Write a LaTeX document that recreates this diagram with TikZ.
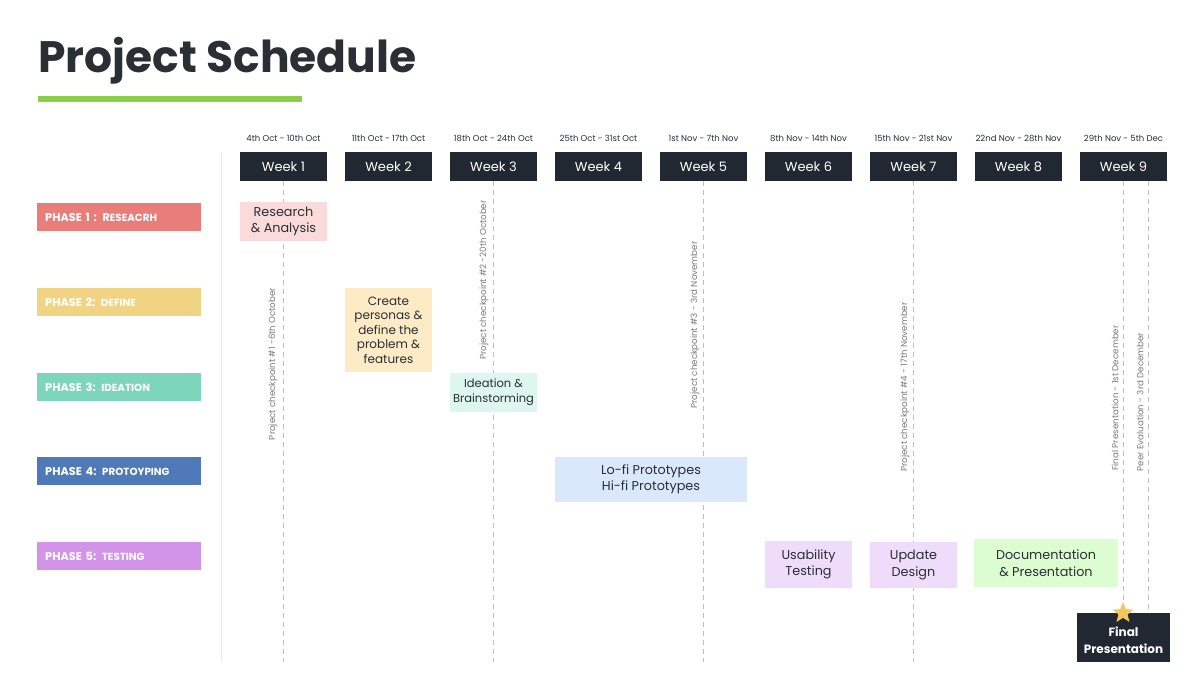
\documentclass[tikz,border=0pt]{standalone}
\usepackage{fontspec}
\setmainfont{Poppins}
\usetikzlibrary{positioning}
\usetikzlibrary{shapes.geometric}

\definecolor{dark}{HTML}{222831}
\definecolor{darktext}{HTML}{2A2E35}
\definecolor{titlebar}{HTML}{8BCF48}
\definecolor{cpgray}{HTML}{7A7A82}
\definecolor{linegray}{HTML}{BDBDC8}
\definecolor{sepgray}{HTML}{ECECEC}
\definecolor{pone}{HTML}{E97D7A}
\definecolor{ptwo}{HTML}{F1D384}
\definecolor{pthree}{HTML}{7DD6BA}
\definecolor{pfour}{HTML}{4F79B9}
\definecolor{pfive}{HTML}{D393E8}
\definecolor{tone}{HTML}{FADBDA}
\definecolor{ttwo}{HTML}{FCEBC5}
\definecolor{tthree}{HTML}{DDF7EF}
\definecolor{tfour}{HTML}{DAE8FB}
\definecolor{tfive}{HTML}{EEDCFA}
\definecolor{tdoc}{HTML}{DCFDD0}
\definecolor{gold}{HTML}{F3C85A}

\tikzstyle{week} = [rectangle,fill=dark,text=white,minimum width=87pt,minimum height=29pt,inner sep=0pt,outer sep=0pt,font=\fontsize{13}{15}\selectfont]
\tikzstyle{datelbl} = [text=darktext,inner sep=0pt,font=\fontsize{8.5}{10}\selectfont]
\tikzstyle{phase} = [rectangle,anchor=west,text width=148pt,minimum height=28pt,inner sep=8pt,align=left,text=white,font=\bfseries\fontsize{11.3}{13}\selectfont]
\tikzstyle{task} = [rectangle,inner sep=0pt,align=center,text=darktext,font=\fontsize{12.8}{16.5}\selectfont]
\tikzstyle{cpline} = [draw=linegray,dash pattern=on 5pt off 4pt,line width=0.8pt]
\tikzstyle{cptext} = [rotate=90,text=cpgray,inner sep=0pt,font=\fontsize{8.7}{10}\selectfont]

\begin{document}
\begin{tikzpicture}[x=1pt,y=-1pt]
  \useasboundingbox [fill=white] (0,0) rectangle (1184,686);

  % title
  \node [anchor=base west,inner sep=0pt,text=darktext,font=\bfseries\fontsize{44}{48}\selectfont] (title) at (38,72) {Project Schedule};
  \fill [titlebar] (38,96) rectangle (302,102);
  \draw [sepgray,line width=1pt] (221,152) -- (221,662);
  \coordinate (bottom) at (0,662);

  % weeks
  \node [week] (w1) at (283.5,166.5) {Week 1};
  \node [week,right=18pt of w1] (w2) {Week 2};
  \node [week,right=18pt of w2] (w3) {Week 3};
  \node [week,right=18pt of w3] (w4) {Week 4};
  \node [week,right=18pt of w4] (w5) {Week 5};
  \node [week,right=18pt of w5] (w6) {Week 6};
  \node [week,right=18pt of w6] (w7) {Week 7};
  \node [week,right=18pt of w7] (w8) {Week 8};
  \node [week,right=18pt of w8] (w9) {Week 9};

  \node [datelbl,above=10pt of w1] (d1) {4th Oct - 10th Oct};
  \node [datelbl,above=10pt of w2] (d2) {11th Oct - 17th Oct};
  \node [datelbl,above=10pt of w3] (d3) {18th Oct - 24th Oct};
  \node [datelbl,above=10pt of w4] (d4) {25th Oct - 31st Oct};
  \node [datelbl,above=10pt of w5] (d5) {1st Nov - 7th Nov};
  \node [datelbl,above=10pt of w6] (d6) {8th Nov - 14th Nov};
  \node [datelbl,above=10pt of w7] (d7) {15th Nov - 21st Nov};
  \node [datelbl,above=10pt of w8] (d8) {22nd Nov - 28th Nov};
  \node [datelbl,above=10pt of w9] (d9) {29th Nov - 5th Dec};

  % phases
  \node [phase,fill=pone] (p1) at (37,217) {PHASE 1 : R{\fontsize{10.3}{10}\selectfont ESEACRH}};
  \node [phase,fill=ptwo] (p2) at (37,302) {PHASE 2: {\fontsize{10.3}{10}\selectfont DEFINE}};
  \node [phase,fill=pthree] (p3) at (37,387) {PHASE 3: {\fontsize{10.3}{10}\selectfont IDEATION}};
  \node [phase,fill=pfour] (p4) at (37,471) {PHASE 4: {\fontsize{10.3}{10}\selectfont PROTOYPING}};
  \node [phase,fill=pfive] (p5) at (37,556) {PHASE 5: {\fontsize{10.3}{10}\selectfont TESTING}};

  % checkpoints
  \coordinate (fp) at (1123,181);
  \coordinate (pe) at (1148,181);
  \coordinate (fpend) at (1123,613);
  \draw [cpline] (w1.south) -- (w1.south |- bottom);
  \draw [cpline] (w3.south) -- (w3.south |- bottom);
  \draw [cpline] (w5.south) -- (w5.south |- bottom);
  \draw [cpline] (w7.south) -- (w7.south |- bottom);
  \draw [cpline] (fp) -- (fpend);
  \draw [cpline] (pe) -- (pe |- fpend);

  \node [cptext] (c1) at (273,364) {Project checkpoint \#1 -6th October};
  \node [cptext] (c2) at (484,280) {Project checkpoint \#2 -20th October};
  \node [cptext] (c3) at (695,325) {Project checkpoint \#3 - 3rd November};
  \node [cptext] (c4) at (905,387) {Project checkpoint \#4 - 17th November};
  \node [cptext] (c5) at (1115,398) {Final Presentation - 1st December};
  \node [cptext] (c6) at (1140,402) {Peer Evaluation - 3rd December};

  % tasks
  \node [task,fill=tone,minimum width=87pt,minimum height=39pt] (t1) at (283.5,221.5) {Research\\\& Analysis};
  \node [task,fill=ttwo,minimum width=87pt,minimum height=84pt,font=\fontsize{12}{14.5}\selectfont] (t2) at (388.5,330) {Create\\personas \&\\define the\\problem \&\\features};
  \node [task,fill=tthree,minimum width=87pt,minimum height=39pt,font=\fontsize{11.5}{15}\selectfont] (t3) at (493.5,392.5) {Ideation \&\\Brainstorming};
  \node [task,fill=tfour,minimum width=192pt,minimum height=45pt] (t4) at (651,479.5) {Lo-fi Prototypes\\Hi-fi Prototypes};
  \node [task,fill=tfive,minimum width=87pt,minimum height=47pt] (t5) at (808.5,564.5) {Usability\\Testing};
  \node [task,fill=tfive,minimum width=87pt,minimum height=46pt] (t6) at (913.5,565) {Update\\Design};
  \node [task,fill=tdoc,minimum width=144pt,minimum height=48pt] (t7) at (1046,563) {Documentation\\\& Presentation};

  \node [task,fill=dark,text=white,minimum width=93pt,minimum height=49pt,font=\bfseries\fontsize{12}{17}\selectfont] (final) at (1123.5,637.5) {\\[-1pt]Final\\Presentation};
  \node [star,star points=5,star point ratio=2.3,fill=gold,minimum size=22pt,inner sep=0pt] (st) at (fpend) {};
\end{tikzpicture}
\end{document}
